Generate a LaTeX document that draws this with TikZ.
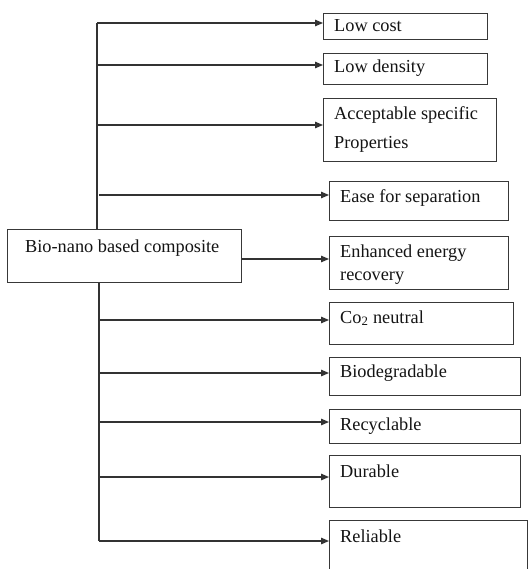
\documentclass[tikz,border=0pt]{standalone}
\usepackage{fontspec}
\setmainfont{Liberation Serif}
\usetikzlibrary{arrows.meta,calc}
\begin{document}
\begin{tikzpicture}[x=1bp,y=-1bp,
  box/.style={draw=black!78, line width=1.3bp, rectangle, inner sep=0pt, anchor=north west},
  lbl/.style={anchor=base west, inner sep=0pt, text=black!92, font=\fontsize{18.3bp}{29bp}\selectfont, align=left},
  arr/.style={draw=black!80, line width=1.3bp, -{Triangle[length=8bp,width=6.5bp]}},
  ln/.style={draw=black!80, line width=1.3bp}]
\useasboundingbox (0,0) rectangle (531,569);
\clip (0,0) rectangle (531,569);
\fill[white] (0,0) rectangle (531,569);
% boxes
\node[box, minimum width=164bp, minimum height=26bp] (b1) at (323,13) {};
\node[box, minimum width=164bp, minimum height=31bp] (b2) at (323,53) {};
\node[box, minimum width=173bp, minimum height=63bp] (b3) at (323,98) {};
\node[box, minimum width=179bp, minimum height=39bp] (b4) at (329,181) {};
\node[box, minimum width=234bp, minimum height=53bp] (main) at (7,229) {};
\node[box, minimum width=179bp, minimum height=53bp] (b5) at (329,236) {};
\node[box, minimum width=184bp, minimum height=42bp] (b6) at (329,302) {};
\node[box, minimum width=191bp, minimum height=38bp] (b7) at (329,357) {};
\node[box, minimum width=191bp, minimum height=34bp] (b8) at (329,409) {};
\node[box, minimum width=191bp, minimum height=52bp] (b9) at (329,455) {};
\node[box, minimum width=198bp, minimum height=62bp] (b10) at (329,520) {};
% texts
\node[lbl] (t1) at ($(b1.north west)+(11,19)$) {Low cost};
\node[lbl] (t2) at ($(b2.north west)+(11,20)$) {Low density};
\node[lbl] (t3) at ($(b3.north west)+(11,51)$) {Acceptable specific\\Properties};
\node[lbl] (t4) at ($(b4.north west)+(11,21)$) {Ease for separation};
\node[lbl] (tm) at ($(main.north west)+(18,23)$) {Bio-nano based composite};
\node[lbl, font=\fontsize{18.3bp}{23.5bp}\selectfont] (t5) at ($(b5.north west)+(11,44.5)$) {Enhanced energy\\recovery};
\node[lbl] (t6) at ($(b6.north west)+(11,21)$) {Co\textsubscript{2} neutral};
\node[lbl] (t7) at ($(b7.north west)+(11,20)$) {Biodegradable};
\node[lbl] (t8) at ($(b8.north west)+(11,21)$) {Recyclable};
\node[lbl] (t9) at ($(b9.north west)+(11,22)$) {Durable};
\node[lbl] (t10) at ($(b10.north west)+(11,22)$) {Reliable};
% spine
\coordinate (s1) at (97,23);
\coordinate (s2) at (97,65);
\coordinate (s3) at (97,125);
\coordinate (s4) at (99,195);
\coordinate (s5) at (241,259);
\coordinate (s6) at (99,320);
\coordinate (s7) at (99,373);
\coordinate (s8) at (99,422);
\coordinate (s9) at (99,477);
\coordinate (s10) at (99,541);
\draw[ln] (main.north -| s1) -- (s1);
\draw[ln] (main.south -| s10) -- (s10);
\draw[arr] (s1) -- (s1 -| b1.west);
\draw[arr] (s2) -- (s2 -| b2.west);
\draw[arr] (s3) -- (s3 -| b3.west);
\draw[arr] (s4) -- (s4 -| b4.west);
\draw[arr] (s5 -| main.east) -- (s5 -| b5.west);
\draw[arr] (s6) -- (s6 -| b6.west);
\draw[arr] (s7) -- (s7 -| b7.west);
\draw[arr] (s8) -- (s8 -| b8.west);
\draw[arr] (s9) -- (s9 -| b9.west);
\draw[arr] (s10) -- (s10 -| b10.west);
\end{tikzpicture}
\end{document}
